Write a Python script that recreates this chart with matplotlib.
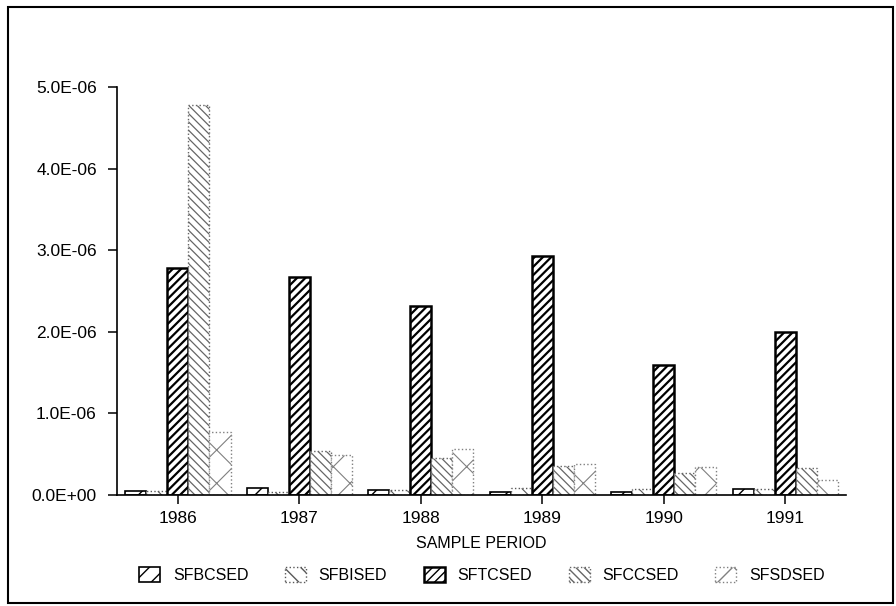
import numpy as np
import matplotlib
matplotlib.use("Agg")
import matplotlib.pyplot as plt
from matplotlib.patches import Rectangle

plt.rcParams['font.family'] = ['Liberation Sans', 'DejaVu Sans']

# data (values in units of 1E-06)
years = ['1986', '1987', '1988', '1989', '1990', '1991']
series = ['SFBCSED', 'SFBISED', 'SFTCSED', 'SFCCSED', 'SFSDSED']
sfbcsed = [0.05, 0.08, 0.06, 0.04, 0.04, 0.07]
sfbised = [0.05, 0.04, 0.06, 0.08, 0.07, 0.07]
sftcsed = [2.78, 2.67, 2.32, 2.93, 1.59, 2.00]
sfccsed = [4.78, 0.54, 0.45, 0.36, 0.27, 0.33]
sfsdsed = [0.77, 0.49, 0.56, 0.38, 0.34, 0.18]
values = [sfbcsed, sfbised, sftcsed, sfccsed, sfsdsed]

# hatch / edge styles per series
styles = [
    dict(hatch='//', edgecolor='black', linestyle='-', lw=1.2, hlw=1.0),
    dict(hatch='\\\\', edgecolor='0.35', linestyle=':', lw=1.0, hlw=0.8),
    dict(hatch='////', edgecolor='black', linestyle='-', lw=1.8, hlw=1.6),
    dict(hatch='\\\\\\\\', edgecolor='0.4', linestyle=':', lw=1.0, hlw=0.9),
    dict(hatch='x', edgecolor='0.5', linestyle=':', lw=1.0, hlw=0.8),
]

fig = plt.figure(figsize=(8.96, 6.06), dpi=100)
ax = fig.add_axes([117 / 896, 1 - 495 / 606, (846 - 117) / 896, (495 - 87) / 606])

x = np.arange(len(years))
width = 0.173
handles = []
for i, (vals, st) in enumerate(zip(values, styles)):
    with plt.rc_context({'hatch.linewidth': st['hlw']}):
        bars = ax.bar(x + (i - 2) * width, np.array(vals) * 1e-6, width,
                      facecolor='white', edgecolor=st['edgecolor'],
                      hatch=st['hatch'], linestyle=st['linestyle'],
                      linewidth=st['lw'], label=series[i], zorder=2)
    handles.append(bars)

ax.set_xlim(-0.502, 5.50)
ax.set_ylim(0, 5e-6)
ax.set_yticks(np.arange(0, 5.1e-6, 1e-6))
ax.set_yticklabels(['0.0E+00', '1.0E-06', '2.0E-06', '3.0E-06', '4.0E-06', '5.0E-06'])
ax.set_xticks(x)
ax.set_xticklabels(years)

for s in ['top', 'right']:
    ax.spines[s].set_visible(False)
for s in ['left', 'bottom']:
    ax.spines[s].set_linewidth(1.2)
    ax.spines[s].set_zorder(3)

ax.tick_params(axis='y', length=6.5, width=1.1, pad=8, labelsize=12.5)
ax.tick_params(axis='x', length=6.5, width=1.1, pad=5, labelsize=12.5)
ax.set_xlabel('SAMPLE PERIOD', fontsize=11.5, labelpad=7)

fig.legend(handles=handles, labels=series, loc='center',
           bbox_to_anchor=(482 / 896, 1 - 575 / 606), ncol=5, frameon=False,
           fontsize=11.5, handlelength=1.3, handleheight=1.1,
           handletextpad=0.8, columnspacing=2.3)

# outer border around the whole chart
fig.patches.append(Rectangle((8 / 896, 1 - 603 / 606), (893 - 8) / 896, (603 - 7) / 606,
                             transform=fig.transFigure, fill=False,
                             edgecolor='black', linewidth=1.5))

fig.savefig('out.png', dpi=100)
